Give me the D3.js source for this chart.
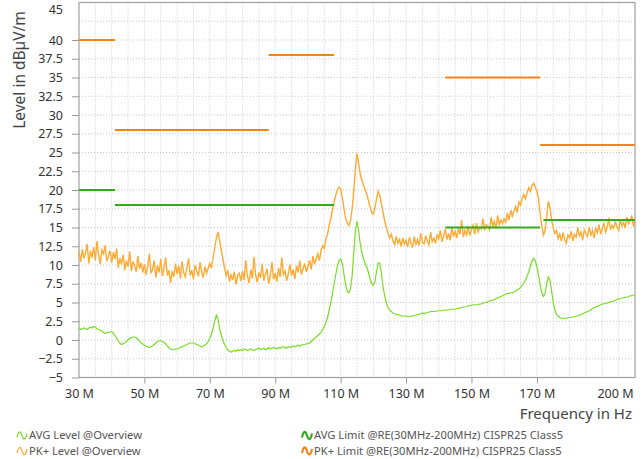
<!DOCTYPE html>
<html lang="en">
<head>
<meta charset="utf-8">
<title>EMC scan</title>
<script src="https://d3js.org/d3.v7.min.js"></script>
<style>
  body { margin: 0; background: #fff; }
  svg text { font-family: "Noto Sans", "Open Sans", sans-serif; }
</style>
</head>
<body>
<div id="canvas"></div>
<script>
// traces sampled every 0.5 MHz from 30 MHz to 200 MHz (dBuV/m)
const startMHz = 30
const stepMHz = 0.5

const avgLevel = [
  1.6,1.4,1.5,1.6,1.5,1.4,1.6,1.7,1.6,1.8,1.7,1.5,1.4,1.3,1.2,1.0,0.9,1.0,1.0,1.1,
  1.1,0.9,0.6,0.3,-0.1,-0.4,-0.6,-0.5,-0.4,-0.2,0.0,0.2,0.3,0.4,0.4,0.3,0.1,-0.1,-0.4,-0.5,
  -0.7,-0.8,-0.9,-1.0,-0.9,-0.8,-0.6,-0.4,-0.2,-0.1,-0.1,-0.2,-0.3,-0.5,-0.8,-1.0,-1.2,-1.3,-1.3,-1.2,
  -1.2,-1.1,-1.0,-0.9,-0.8,-0.7,-0.6,-0.5,-0.4,-0.4,-0.4,-0.5,-0.6,-0.7,-0.8,-0.9,-0.8,-0.7,-0.5,-0.2,
  0.2,0.8,1.6,2.6,3.3,2.8,1.5,0.6,0.0,-0.6,-1.0,-1.3,-1.5,-1.6,-1.5,-1.4,-1.5,-1.3,-1.4,-1.3,
  -1.4,-1.2,-1.3,-1.4,-1.3,-1.2,-1.3,-1.4,-1.3,-1.2,-1.1,-1.3,-1.2,-1.1,-1.3,-1.2,-1.0,-1.2,-1.1,-1.0,
  -1.1,-1.2,-1.0,-1.1,-1.0,-0.9,-1.0,-1.1,-0.9,-1.0,-0.9,-0.8,-0.9,-0.8,-0.7,-0.8,-0.7,-0.6,-0.6,-0.5,
  -0.5,-0.4,-0.2,0.0,0.2,0.4,0.6,0.8,1.0,1.4,1.8,2.3,3.0,4.0,5.0,6.2,7.5,8.7,9.8,10.6,
  10.8,10.2,8.8,7.4,6.5,6.3,6.8,8.5,11.5,14.5,15.8,14.6,12.8,11.6,10.8,10.2,9.7,9.0,8.2,7.5,
  7.3,7.8,9.2,10.3,10.2,8.8,7.0,5.8,4.9,4.3,4.0,3.8,3.6,3.5,3.4,3.4,3.3,3.2,3.2,3.2,
  3.2,3.1,3.1,3.2,3.2,3.3,3.3,3.4,3.4,3.5,3.6,3.5,3.6,3.7,3.7,3.8,3.8,3.8,3.8,3.9,
  3.9,3.9,3.9,4.0,4.0,4.0,4.0,4.1,4.1,4.1,4.1,4.2,4.2,4.3,4.3,4.4,4.4,4.5,4.5,4.6,
  4.6,4.7,4.7,4.7,4.7,4.8,4.8,4.9,5.0,5.0,5.1,5.2,5.3,5.3,5.4,5.5,5.6,5.7,5.8,5.9,
  6.0,6.1,6.2,6.2,6.3,6.3,6.4,6.5,6.7,6.8,7.0,7.3,7.6,8.0,8.5,9.1,9.8,10.5,10.9,10.6,
  9.8,8.6,7.3,6.3,5.8,6.2,7.5,8.4,8.0,6.5,5.0,4.0,3.4,3.2,3.0,2.9,2.9,2.9,2.9,3.0,
  3.0,3.0,3.1,3.1,3.2,3.2,3.3,3.4,3.5,3.6,3.7,3.8,3.9,4.0,4.2,4.3,4.4,4.5,4.6,4.7,
  4.8,4.8,4.9,4.9,5.0,5.1,5.1,5.2,5.3,5.4,5.5,5.5,5.6,5.6,5.7,5.7,5.8,5.9,5.9,6.0,
  6.0
]

const pkLevel = [
  11.8,10.4,12.1,10.9,11.6,12.8,10.2,11.9,11.0,12.4,10.6,13.2,11.3,10.1,12.0,11.5,12.6,10.5,11.2,11.9,
  10.3,11.7,10.8,12.2,9.6,10.9,10.1,11.4,9.3,10.6,9.8,11.8,9.2,10.4,10.0,9.1,11.2,9.5,10.3,9.0,
  10.1,8.7,9.8,11.5,8.9,9.4,10.6,8.3,9.9,9.0,10.8,8.5,9.6,11.0,8.6,9.3,7.6,9.2,8.4,10.2,
  8.8,9.9,8.2,10.5,9.0,8.4,9.7,10.9,8.6,9.3,8.1,10.0,9.2,8.5,10.4,9.1,8.3,9.8,8.9,9.6,
  10.2,9.6,11.0,12.3,13.6,14.4,13.2,12.0,10.8,9.6,8.6,9.3,7.8,8.7,8.0,9.1,7.4,8.6,8.9,7.9,
  9.2,8.0,10.6,8.5,7.6,9.4,8.2,11.1,8.7,7.7,9.0,8.3,10.2,7.9,8.8,9.5,7.5,8.6,10.4,8.1,
  8.9,7.8,9.6,8.4,11.0,8.7,9.2,7.9,8.8,10.1,8.6,9.4,8.1,9.9,9.0,10.6,8.7,9.5,10.2,9.1,
  9.8,10.6,9.4,11.2,10.1,10.8,11.5,10.6,11.9,12.6,12.2,13.5,14.1,15.3,16.2,17.4,18.4,19.3,20.0,20.4,
  20.2,19.0,17.6,16.3,15.6,15.3,15.9,17.4,19.8,22.8,24.9,23.6,22.1,21.3,20.6,20.0,19.4,18.6,17.8,17.0,
  16.8,17.6,18.9,19.8,19.2,18.1,16.9,15.8,14.9,14.2,13.6,14.1,13.2,12.7,13.8,12.9,13.4,12.5,13.6,12.8,
  13.3,12.4,13.7,12.9,12.3,13.8,12.7,13.4,12.6,14.2,13.0,12.8,13.9,13.2,12.7,14.4,13.1,13.6,12.9,14.0,
  13.5,14.6,13.1,13.9,14.8,13.4,14.2,13.3,15.0,13.8,14.5,13.6,14.9,14.1,16.0,13.7,14.6,14.0,15.2,13.9,
  14.7,15.3,14.1,15.6,14.4,15.0,14.8,16.2,14.6,15.4,15.1,14.7,16.4,15.2,15.8,14.9,16.6,15.4,16.0,15.5,
  16.2,15.7,16.9,16.0,17.3,16.5,17.2,17.8,17.0,18.4,18.0,18.9,19.4,18.8,19.6,20.3,19.8,20.6,20.9,20.4,
  19.9,18.8,16.8,15.2,14.0,14.6,16.4,18.5,17.6,16.0,15.0,14.2,14.6,13.5,14.1,13.2,14.3,13.4,12.9,14.0,
  13.6,14.5,13.2,14.1,13.7,15.0,13.9,14.4,13.3,14.7,14.2,13.8,15.1,14.0,14.6,13.6,14.9,14.3,15.4,14.1,
  14.8,15.6,14.4,15.0,16.3,14.7,15.3,14.9,15.8,15.1,14.6,16.0,15.2,15.7,14.9,16.4,15.5,15.9,16.6,15.3,
  15.9
]

// limit segments: [from MHz, to MHz, level]
const pkLimit = [[30, 41, 40], [41, 88, 28], [88, 108, 38], [142, 171, 35], [171, 200, 26]]
const avgLimit = [[30, 41, 20], [41, 108, 18], [142, 171, 15], [172, 200, 16]]

const xTicks = [30, 50, 70, 90, 110, 130, 150, 170, 200]
const yTicks = [40, 37.5, 35, 32.5, 30, 27.5, 25, 22.5, 20, 17.5, 15, 12.5, 10, 7.5, 5, 2.5, 0, -2.5, -5]

const legendItems = [
  {name: "AVG Level @Overview", color: "#77dd22", w: 1.2},
  {name: "PK+ Level @Overview", color: "#ffaa33", w: 1.2},
  {name: "AVG Limit @RE(30MHz-200MHz) CISPR25 Class5", color: "#33aa1c", w: 2.2},
  {name: "PK+ Limit @RE(30MHz-200MHz) CISPR25 Class5", color: "#f28418", w: 2.2}
]

const width = 642
const height = 459
const plotL = 79, plotR = 635, plotT = 2.5, plotB = 377.5

const svg = d3.select("#canvas").append("svg")
  .attr("width", width)
  .attr("height", height)

const x = d3.scaleLinear().domain([30, 200]).range([plotL, plotR])
const y = d3.scaleLinear().domain([-5, 45]).range([plotB, plotT])

// grid
const grid = svg.append("g")
grid.selectAll("line.v")
  .data(d3.range(35, 200, 5))
  .join("line")
    .attr("class", "v")
    .attr("x1", d => x(d)).attr("x2", d => x(d))
    .attr("y1", plotT).attr("y2", plotB)
    .attr("stroke", "#c8c8c8").attr("stroke-dasharray", "1,2")
grid.selectAll("line.h")
  .data(d3.range(-2.5, 45, 2.5))
  .join("line")
    .attr("class", "h")
    .attr("x1", plotL).attr("x2", plotR)
    .attr("y1", d => y(d)).attr("y2", d => y(d))
    .attr("stroke", "#c8c8c8").attr("stroke-dasharray", "1,2")

// frame
svg.append("rect")
  .attr("x", plotL).attr("y", plotT)
  .attr("width", plotR - plotL).attr("height", plotB - plotT)
  .attr("fill", "none").attr("stroke", "#a0a0a0").attr("stroke-width", 1.2)

// y axis
const yAxis = svg.append("g")
  .attr("transform", `translate(${plotL},0)`)
  .call(d3.axisLeft(y).tickValues(yTicks).tickSize(7).tickPadding(9).tickFormat(d3.format("")))
yAxis.select(".domain").remove()
yAxis.selectAll("line").attr("stroke", "#999")
yAxis.selectAll("text").attr("font-size", 12.5).attr("fill", "#333")
svg.append("text")
  .attr("x", plotL - 16).attr("y", 10).attr("dy", "0.32em")
  .attr("text-anchor", "end").attr("font-size", 12.5).attr("fill", "#333")
  .text("45")

// x axis
const xAxis = svg.append("g")
  .attr("transform", `translate(0,${plotB})`)
  .call(d3.axisBottom(x).tickValues(xTicks).tickSize(6).tickPadding(6).tickFormat(d => d + " M"))
xAxis.select(".domain").remove()
xAxis.selectAll("line").attr("stroke", "#999")
  .filter(d => d === 30 || d === 200).remove()
xAxis.selectAll("text").attr("font-size", 12.5).attr("fill", "#333")
xAxis.selectAll(".tick").filter(d => d === 200).select("text")
  .attr("text-anchor", "end").attr("dx", "-2")

svg.append("text")
  .attr("x", 632).attr("y", 419)
  .attr("text-anchor", "end").attr("font-size", 15).attr("fill", "#444")
  .text("Frequency in Hz")

svg.append("text")
  .attr("transform", "translate(25,70) rotate(-90)")
  .attr("text-anchor", "middle").attr("font-size", 15.5).attr("fill", "#444")
  .text("Level in dBµV/m")

// traces
const line = d3.line()
  .x((d, i) => x(startMHz + i * stepMHz))
  .y(d => y(d))

svg.append("path").datum(pkLevel)
  .attr("d", line)
  .attr("fill", "none").attr("stroke", legendItems[1].color).attr("stroke-width", 1.4)
svg.append("path").datum(avgLevel)
  .attr("d", line)
  .attr("fill", "none").attr("stroke", legendItems[0].color).attr("stroke-width", 1.2)

// limits
svg.append("g").selectAll("line")
  .data(avgLimit)
  .join("line")
    .attr("x1", d => x(d[0])).attr("x2", d => x(d[1]))
    .attr("y1", d => y(d[2])).attr("y2", d => y(d[2]))
    .attr("stroke", legendItems[2].color).attr("stroke-width", 2.2)
svg.append("g").selectAll("line")
  .data(pkLimit)
  .join("line")
    .attr("x1", d => x(d[0])).attr("x2", d => x(d[1]))
    .attr("y1", d => y(d[2])).attr("y2", d => y(d[2]))
    .attr("stroke", legendItems[3].color).attr("stroke-width", 2.2)

// legend
const legendPos = [[17, 435.5], [17, 451], [302, 435.5], [302, 451]]
const legend = svg.append("g").selectAll("g")
  .data(legendItems)
  .join("g")
    .attr("transform", (d, i) => `translate(${legendPos[i][0]},${legendPos[i][1]})`)
legend.append("path")
  .attr("d", "M0,2 C1.5,-5 3.5,-5 5,0 C6.5,5 8.5,5 10,-2")
  .attr("fill", "none")
  .attr("stroke", d => d.color)
  .attr("stroke-width", d => d.w)
legend.append("text")
  .attr("x", 12).attr("dy", "0.35em")
  .attr("font-size", 11.2).attr("fill", "#555")
  .text(d => d.name)
</script>
</body>
</html>
